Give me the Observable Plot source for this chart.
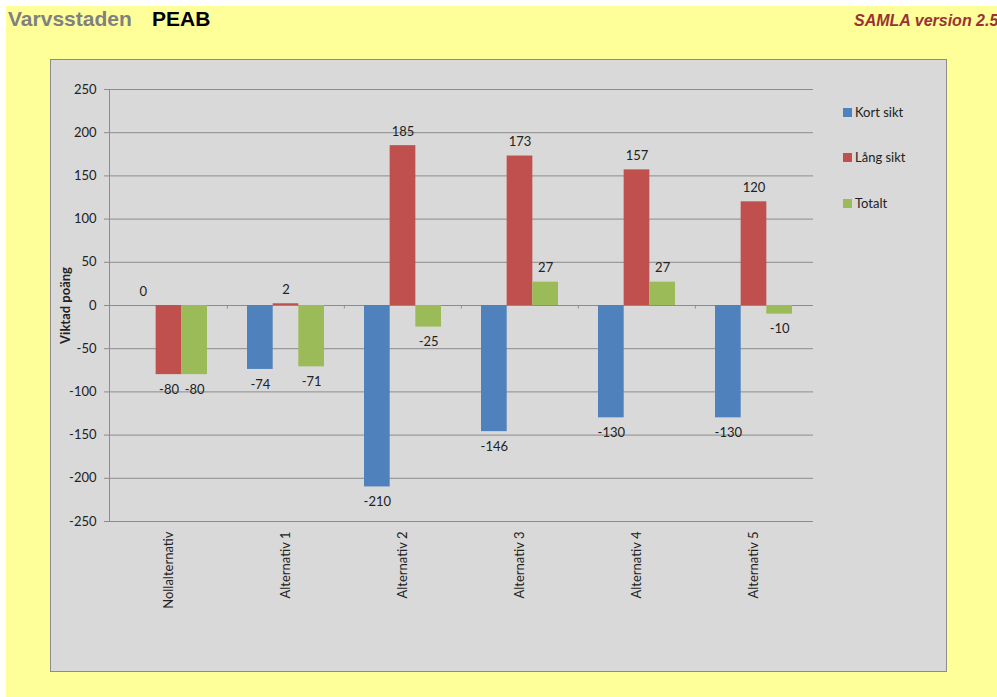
<!DOCTYPE html>
<html>
<head>
<meta charset="utf-8">
<script src="https://cdn.jsdelivr.net/npm/d3@7"></script>
<script src="https://cdn.jsdelivr.net/npm/@observablehq/plot@0.6"></script>
<style>
  html, body { margin: 0; padding: 0; background: #ffffff; }
  body { width: 997px; height: 697px; position: relative; overflow: hidden; }
  #bg { position: absolute; left: 6px; top: 6px; width: 991px; height: 691px; background: #ffff99; }
  #title1 { position: absolute; left: 8px; top: 7px; font: bold 21px "Liberation Sans", Arial, sans-serif; color: #808080; white-space: nowrap; }
  #title2 { position: absolute; left: 152px; top: 7px; font: bold 21px "Liberation Sans", Arial, sans-serif; color: #000000; white-space: nowrap; }
  #version { position: absolute; left: 854px; top: 12px; font: italic bold 16px "Liberation Sans", Arial, sans-serif; color: #993333; white-space: nowrap; }
  #box { position: absolute; left: 50px; top: 59px; width: 897px; height: 613px; box-sizing: border-box; background: #d9d9d9; border: 1px solid #8c8c8c; }
  #chart { position: absolute; left: 50px; top: 59px; }
  #legend { position: absolute; left: 843px; top: 0; font: 13px Lato, sans-serif; color: #222; }
  .li { position: absolute; left: 0; white-space: nowrap; height: 16px; line-height: 16px; }
  .sw { display: inline-block; width: 9px; height: 9px; vertical-align: middle; margin-right: 3px; position: relative; top: -1px; }
</style>
</head>
<body>
<div id="bg"></div>
<div id="title1">Varvsstaden</div>
<div id="title2">PEAB</div>
<div id="version">SAMLA version 2.5</div>
<div id="box"></div>
<div id="chart"></div>
<div id="legend"></div>
<script>
const categories = ["Nollalternativ", "Alternativ 1", "Alternativ 2", "Alternativ 3", "Alternativ 4", "Alternativ 5"];
const seriesNames = ["Kort sikt", "Lång sikt", "Totalt"];
const kortSikt = [0, -74, -210, -146, -130, -130];
const langSikt = [-80, 2, 185, 173, 157, 120];
const totalt = [-80, -71, -25, 27, 27, -10];
const seriesColors = ["#4f81bd", "#c0504d", "#9bbb59"];
const yTicks = [-250, -200, -150, -100, -50, 0, 50, 100, 150, 200, 250];
const yLabel = "Viktad poäng";

const seriesValues = [kortSikt, langSikt, totalt];

const W = 897, H = 613;
const mL = 59, mR = 134, mT = 30, mB = 151;
const pad = 0.344;
const step = (W - mL - mR) / categories.length;
const third = step * (1 - pad) / 3;

const marks = [
  Plot.gridY(yTicks, {stroke: "#8c8c8c", strokeOpacity: 1}),
  Plot.frame({anchor: "left", stroke: "#8c8c8c"}),
  Plot.ruleY([0], {stroke: "#8c8c8c"}),
  Plot.ruleX(categories.slice(1), {x: d => d, y1: 0, y2: -4, stroke: "#8c8c8c", dx: -step / 2})
];

seriesValues.forEach((vals, i) => {
  const rows = categories.map((c, j) => ({cat: c, value: vals[j]}));
  const dx = (i - 1) * third;
  marks.push(Plot.barY(rows, {
    x: "cat", y1: 0, y2: "value", fill: seriesColors[i],
    insetLeft: i * third, insetRight: (2 - i) * third
  }));
  marks.push(Plot.text(rows.filter(d => d.value >= 0), {
    x: "cat", y: "value", text: d => String(d.value), dx, dy: -14, fill: "#222"
  }));
  marks.push(Plot.text(rows.filter(d => d.value < 0), {
    x: "cat", y: "value", text: d => String(d.value), dx, dy: 15, fill: "#222"
  }));
});

marks.push(Plot.axisY(yTicks, {
  tickSize: 5, tickPadding: 8, stroke: "#8c8c8c", fill: "#222",
  tickFormat: d => String(d),
  label: yLabel, labelAnchor: "center", labelOffset: 49, labelArrow: "none"
}));
marks.push(Plot.axisX({anchor: "bottom", tickRotate: -90, tickSize: 0, tickPadding: 10, label: null, fill: "#222"}));

const plot = Plot.plot({
  width: W, height: H,
  marginLeft: mL, marginRight: mR, marginTop: mT, marginBottom: mB,
  style: {background: "transparent", fontFamily: "Lato, sans-serif", fontSize: "13px", color: "#222", overflow: "visible"},
  x: {type: "band", domain: categories, paddingInner: pad, paddingOuter: pad / 2},
  y: {domain: [-250, 250]},
  marks
});
document.getElementById("chart").appendChild(plot);

const lab = plot.querySelector('[aria-label="y-axis label"]');
if (lab) lab.setAttribute("font-weight", "bold");

const legend = document.getElementById("legend");
const legendY = [112, 157, 203];
seriesNames.forEach((s, i) => {
  const div = document.createElement("div");
  div.className = "li";
  div.style.top = (legendY[i] - 8) + "px";
  div.innerHTML = `<span class="sw" style="background:${seriesColors[i]}"></span>${s}`;
  legend.appendChild(div);
});
</script>
</body>
</html>
